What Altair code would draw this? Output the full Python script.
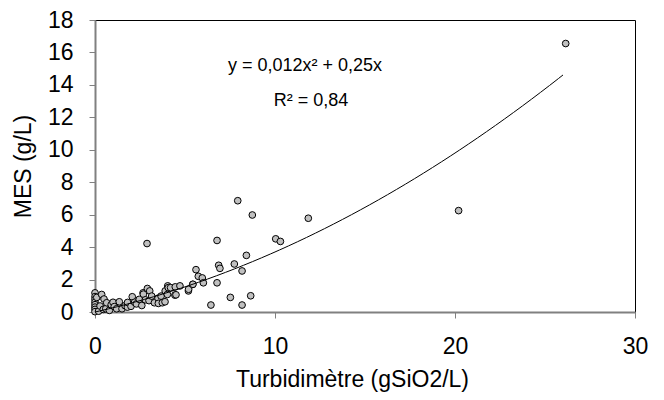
import altair as alt
import pandas as pd

# Scatter data (Turbidimètre gSiO2/L vs MES g/L)
turb = [0.0, 0.0, 0.0, 0.0, 0.0, 0.0, 0.0, 0.0, 0.1, 0.2, 0.28, 0.37, 0.46, 0.5,
        0.6, 0.65, 0.8, 0.9, 1.0, 1.07, 1.2, 1.35, 1.5, 1.67, 1.8, 1.81, 2.0, 2.07,
        2.2, 2.3, 2.46, 2.6, 2.67, 2.69, 2.8, 2.89, 2.91, 3.0, 3.04, 3.15, 3.3, 3.5,
        3.52, 3.67, 3.74, 3.89, 3.9, 4.02, 4.04, 4.07, 4.2, 4.44, 4.46, 4.5, 4.72,
        5.19, 5.2, 5.43, 5.44, 5.61, 5.74, 5.96, 6.02, 6.44, 6.78, 6.78, 6.87, 6.94,
        7.52, 7.74, 7.93, 8.17, 8.17, 8.41, 8.65, 8.74, 10.04, 10.3, 11.85, 20.2, 26.15]
mes = [1.18, 0.95, 0.78, 0.6, 0.45, 0.3, 0.16, 0.02, 0.9, 0.05, 0.37, 1.08, 0.16, 0.8,
       0.2, 0.57, 0.1, 0.45, 0.6, 0.33, 0.2, 0.63, 0.2, 0.39, 0.3, 0.59, 0.35, 0.94,
       0.6, 0.5, 0.78, 0.4, 1.18, 1.1, 0.75, 4.22, 1.45, 0.7, 1.3, 0.98, 0.57, 0.85,
       0.53, 0.98, 0.57, 0.63, 1.3, 1.08, 1.61, 1.5, 1.5, 1.04, 1.55, 1.06, 1.61,
       1.3, 1.4, 1.7, 1.71, 2.61, 2.2, 2.1, 1.8, 0.43, 4.41, 1.8, 2.88, 2.69,
       0.9, 2.96, 6.86, 2.53, 0.43, 3.49, 1.0, 5.98, 4.51, 4.35, 5.78, 6.25, 16.55]

# Trendline coefficients shown on the chart (y = a*x^2 + b*x), drawn over the data's x range
coef_a = 0.012
coef_b = 0.25
eq_text = "y = 0,012x² + 0,25x"
r2_text = "R² = 0,84"

x_ticks = [0, 10, 20, 30]
y_ticks = [0, 2, 4, 6, 8, 10, 12, 14, 16, 18]

df = pd.DataFrame({"turb": turb, "mes": mes})

FONT = "Liberation Sans"
FS = 23
FS_EQ = 18
GREY = "#808080"

x_scale = alt.Scale(domain=[0, 30], nice=False, zero=True)
y_scale = alt.Scale(domain=[0, 18], nice=False, zero=True)

x_axis = alt.Axis(
    values=x_ticks, title="Turbidimètre (gSiO2/L)", grid=False, labelOverlap=False,
    domainColor=GREY, domainWidth=2, tickColor=GREY, tickWidth=1, tickSize=6,
    labelFont=FONT, labelFontSize=FS, labelColor="black", labelPadding=17,
    labelFlush=False,
    titleFont=FONT, titleFontSize=FS, titleFontWeight="normal", titleColor="black",
    titleX=257, titleY=56,
)
y_axis = alt.Axis(
    values=y_ticks, title="MES (g/L)", grid=False, labelOverlap=False,
    domainColor=GREY, domainWidth=2, tickColor=GREY, tickWidth=1, tickSize=6,
    labelFont=FONT, labelFontSize=FS, labelColor="black", labelPadding=16,
    labelFlush=False,
    titleFont=FONT, titleFontSize=FS, titleFontWeight="normal", titleColor="black",
    titleX=-60,
)

points = alt.Chart(df).mark_circle(
    size=45, color="#c0c0c0", stroke="black", strokeWidth=1, opacity=1
).encode(
    x=alt.X("turb:Q", scale=x_scale, axis=x_axis),
    y=alt.Y("mes:Q", scale=y_scale, axis=y_axis),
)

x_max = max(turb)
trend = alt.Chart(
    alt.SequenceGenerator(sequence=alt.SequenceParams(start=0, stop=x_max + 0.01, step=0.25, **{"as": "turb"}))
).transform_calculate(
    turb=f"min(datum.turb, {x_max})"
).transform_calculate(
    mes=f"{coef_a}*datum.turb*datum.turb + {coef_b}*datum.turb"
).mark_line(color="black", strokeWidth=1).encode(
    x=alt.X("turb:Q", scale=x_scale, axis=x_axis),
    y=alt.Y("mes:Q", scale=y_scale, axis=y_axis),
    order=alt.Order("turb:Q"),
)

ann = pd.DataFrame({"t": [eq_text, r2_text], "row": [0, 1]})
eq = alt.Chart(ann).transform_filter("datum.row == 0").mark_text(
    font=FONT, fontSize=FS_EQ, color="black", align="center", baseline="alphabetic"
).encode(text="t:N", x=alt.value(210), y=alt.value(51))
r2 = alt.Chart(ann).transform_filter("datum.row == 1").mark_text(
    font=FONT, fontSize=FS_EQ, color="black", align="center", baseline="alphabetic"
).encode(text="t:N", x=alt.value(216), y=alt.value(86))

chart = alt.layer(points, trend, eq, r2).properties(
    width=540, height=292,
    autosize=alt.AutoSizeParams(type="none"),
    padding={"left": 87, "top": 12, "right": 20, "bottom": 90},
    background="white",
).configure_view(stroke="black", strokeWidth=1)

chart.save("out.html", embed_options={"renderer": "svg", "actions": False})
